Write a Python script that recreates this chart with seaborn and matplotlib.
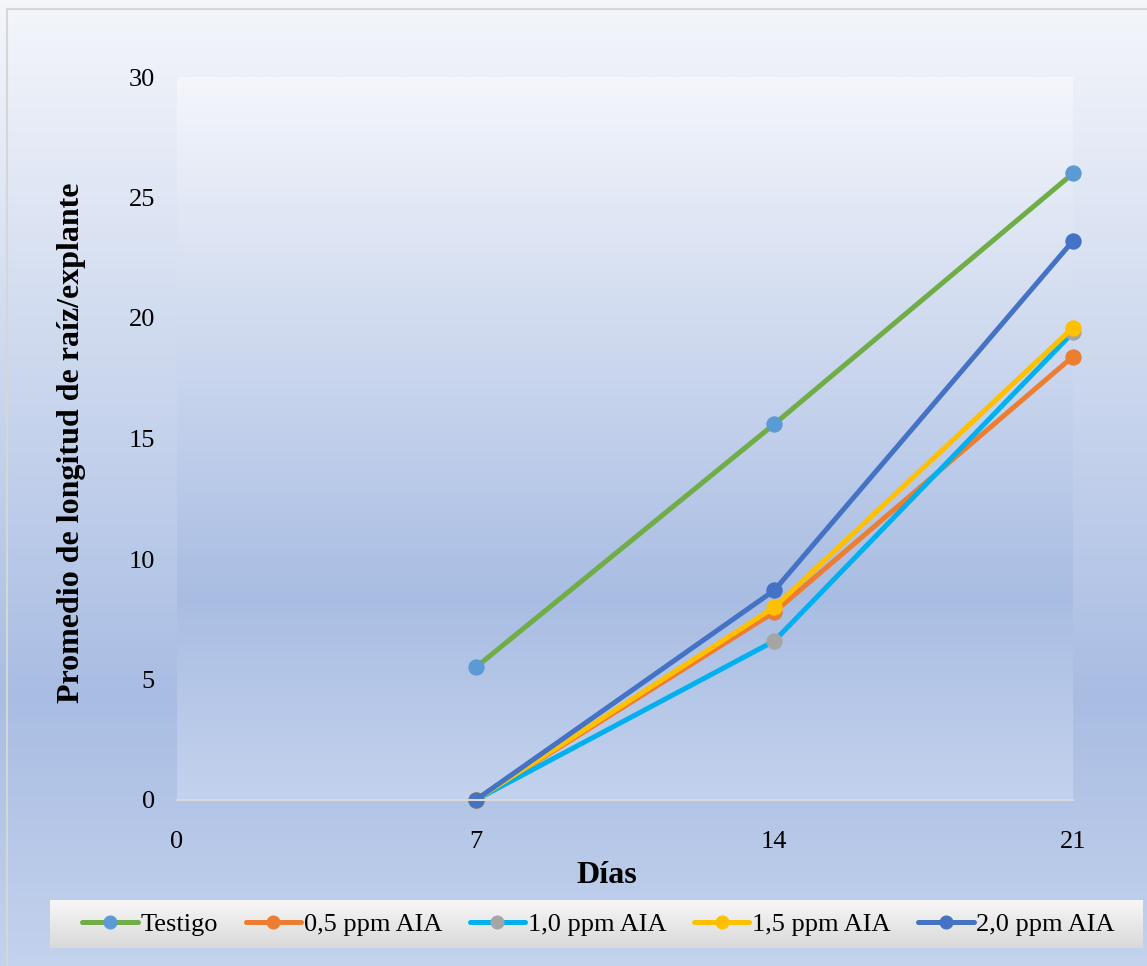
import numpy as np
import pandas as pd
import matplotlib
matplotlib.use("Agg")
import matplotlib.pyplot as plt
from matplotlib.colors import LinearSegmentedColormap
from matplotlib.patches import Rectangle
import seaborn as sns

# Root length per explant (mean) by day and IAA treatment
dias = [7, 14, 21]
testigo = [5.5, 15.6, 26.0]
aia_05 = [0.0, 7.8, 18.4]
aia_10 = [0.0, 6.6, 19.4]
aia_15 = [0.0, 8.0, 19.6]
aia_20 = [0.0, 8.7, 23.2]
tratamientos = ["Testigo", "0,5 ppm AIA", "1,0 ppm AIA", "1,5 ppm AIA", "2,0 ppm AIA"]
series = [testigo, aia_05, aia_10, aia_15, aia_20]

line_colors = ["#70ad47", "#ed7d31", "#00b0f0", "#ffc000", "#4472c4"]
marker_colors = ["#5b9bd5", "#ed7d31", "#a5a5a5", "#ffc000", "#4472c4"]

df = pd.DataFrame({
    "dias": dias * len(series),
    "valor": [v for s in series for v in s],
    "tratamiento": [t for t in tratamientos for _ in dias],
})

sns.set_style("white")
plt.rcParams["font.family"] = ["Liberation Serif", "DejaVu Serif"]
for key in ["text.color", "axes.labelcolor", "xtick.color", "ytick.color"]:
    plt.rcParams[key] = "black"

W, H = 1147, 966
fig = plt.figure(figsize=(W / 100, H / 100), dpi=100)

grad = LinearSegmentedColormap.from_list(
    "fondo", [(0.0, "#f4f6fb"), (0.72, "#a9bde3"), (1.0, "#c3d2ed")])
ramp = np.linspace(0, 1, 256).reshape(-1, 1)

# figure background gradient
bg = fig.add_axes([0, 0, 1, 1], zorder=-10)
bg.imshow(ramp, cmap=grad, aspect="auto", extent=[0, 1, 0, 1], origin="upper")
bg.set_axis_off()
fig.patches.append(Rectangle((7 / W, -0.01), 1 - 7 / W + 0.01, 1 - 9 / H + 0.01,
                             transform=fig.transFigure, fill=False,
                             edgecolor="#d6d6d6", lw=1.5, zorder=5))

left, right = 177 / W, 1073 / W
bottom, top = 1 - 800 / H, 1 - 77 / H
pos = [left, bottom, right - left, top - bottom]

# plot-area gradient
pa = fig.add_axes(pos, zorder=-5)
pa.imshow(ramp, cmap=grad, aspect="auto", extent=[0, 1, 0, 1], origin="upper")
pa.set_axis_off()

ax = fig.add_axes(pos, zorder=1)
ax.set_facecolor("none")
sns.lineplot(data=df, x="dias", y="valor", hue="tratamiento",
             hue_order=tratamientos, palette=line_colors, marker="o",
             markersize=11, linewidth=3.6, legend=False, ax=ax)
for ln, mc in zip(ax.lines, marker_colors):
    ln.set_markerfacecolor(mc)
    ln.set_markeredgecolor(mc)
    ln.set_solid_capstyle("round")
    ln.set_clip_on(False)

ax.set_xlim(0, 21)
ax.set_ylim(0, 30)
ax.set_xticks([0, 7, 14, 21])
ax.set_yticks(range(0, 31, 5))
ax.tick_params(axis="x", length=0, pad=22, labelsize=19)
ax.tick_params(axis="y", length=0, pad=16, labelsize=19)
for s in ["left", "right", "top"]:
    ax.spines[s].set_visible(False)
ax.spines["bottom"].set_color("#d9d9d9")
ax.spines["bottom"].set_linewidth(1.5)
ax.set_xlabel("Días", fontsize=23, fontweight="bold")
ax.set_ylabel("Promedio de longitud de raíz/explante", fontsize=23,
              fontweight="bold")
ax.xaxis.set_label_coords((607 - 177) / 896, -0.085)
ax.yaxis.set_label_coords((86 - 177) / 896, 0.494)

# legend box with light gray gradient
lx0, lx1, ly0, ly1 = 50 / W, 1143 / W, 1 - 948 / H, 1 - 900 / H
lg_ax = fig.add_axes([lx0, ly0, lx1 - lx0, ly1 - ly0], zorder=2)
lgrad = LinearSegmentedColormap.from_list("leyenda", ["#f7f7f7", "#d9d9d9"])
lg_ax.imshow(ramp, cmap=lgrad, aspect="auto", extent=[0, 1, 0, 1], origin="upper")
lg_ax.set_axis_off()

leg = fig.legend(ax.lines[:5], tratamientos, loc="center",
                 bbox_to_anchor=((lx0 + lx1) / 2 + 2 / W, (ly0 + ly1) / 2),
                 ncol=5, frameon=False, fontsize=19, numpoints=1,
                 handlelength=2.1, handletextpad=0.1, columnspacing=1.05,
                 markerscale=0.85)
leg.set_zorder(3)

fig.savefig("out.png", dpi=100)
